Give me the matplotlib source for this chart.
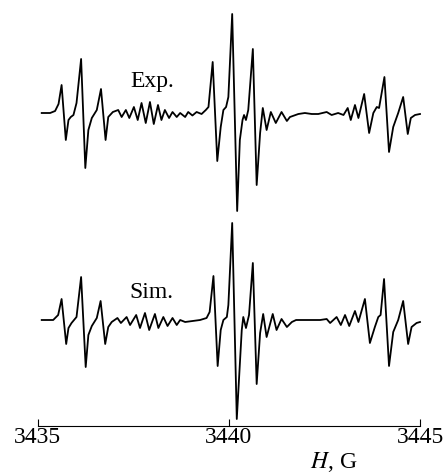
import matplotlib
matplotlib.use("Agg")
import matplotlib.pyplot as plt

# EPR spectrum, experimental trace (field in G, signal in arb. units)
exp_H = [3435.11, 3435.33, 3435.46, 3435.55, 3435.63, 3435.74, 3435.81, 3435.87,
         3435.94, 3436.02, 3436.14, 3436.25, 3436.33, 3436.42, 3436.55, 3436.66,
         3436.78, 3436.85, 3436.97, 3437.11, 3437.20, 3437.31, 3437.40, 3437.52,
         3437.62, 3437.72, 3437.83, 3437.94, 3438.04, 3438.15, 3438.24, 3438.33,
         3438.44, 3438.53, 3438.64, 3438.73, 3438.86, 3438.94, 3439.05, 3439.16,
         3439.29, 3439.40, 3439.47, 3439.58, 3439.70, 3439.79, 3439.86, 3439.93,
         3439.99, 3440.09, 3440.22, 3440.29, 3440.36, 3440.40, 3440.45, 3440.51,
         3440.63, 3440.73, 3440.82, 3440.89, 3440.99, 3441.10, 3441.23, 3441.38,
         3441.52, 3441.60, 3441.82, 3441.99, 3442.17, 3442.34, 3442.56, 3442.69,
         3442.86, 3443.00, 3443.11, 3443.19, 3443.30, 3443.39, 3443.54, 3443.67,
         3443.78, 3443.87, 3443.93, 3444.07, 3444.19, 3444.30, 3444.43, 3444.56,
         3444.68, 3444.76, 3444.87, 3445.00]
exp_I = [0, 0, 2, 9, 28, -27, -7, -4,
         -2, 10, 54, -55, -17, -5, 3, 24,
         -27, -4, 1, 3, -4, 3, -5, 6,
         -7, 10, -10, 11, -11, 8, -7, 3,
         -5, 1, -4, 0, -4, 1, -2.5, 1,
         -1, 3, 6, 51, -48, -14, 3, 6,
         16, 99, -98, -27, -7, -2, -7, 3,
         64, -72, -20, 5, -17, 1, -10, 1,
         -8, -4, -1, 0, -1, -1, 1, -2,
         0, -2, 5, -7, 8, -5, 19, -20,
         0, 6, 5, 36, -39, -14, 0, 16,
         -21, -5, -2, -1]

# simulated trace
sim_H = [3435.11, 3435.41, 3435.54, 3435.63, 3435.75, 3435.81, 3435.89, 3436.02,
         3436.14, 3436.26, 3436.33, 3436.42, 3436.55, 3436.65, 3436.77, 3436.85,
         3436.94, 3437.09, 3437.18, 3437.33, 3437.42, 3437.58, 3437.68, 3437.81,
         3437.92, 3438.07, 3438.16, 3438.29, 3438.40, 3438.53, 3438.64, 3438.73,
         3438.86, 3439.25, 3439.42, 3439.50, 3439.60, 3439.71, 3439.79, 3439.86,
         3439.95, 3439.99, 3440.09, 3440.21, 3440.34, 3440.38, 3440.45, 3440.53,
         3440.63, 3440.73, 3440.82, 3440.90, 3440.99, 3441.15, 3441.25, 3441.38,
         3441.52, 3441.65, 3441.76, 3442.39, 3442.56, 3442.65, 3442.82, 3442.93,
         3443.04, 3443.15, 3443.30, 3443.39, 3443.56, 3443.69, 3443.82, 3443.91,
         3443.97, 3444.06, 3444.19, 3444.30, 3444.43, 3444.56, 3444.69, 3444.78,
         3444.91, 3445.00]
sim_I = [0, 0, 5, 21, -24, -8, -3, 3,
         43, -47, -15, -6, 2, 19, -24, -7,
         -2, 2, -3, 3, -5, 5, -8, 7,
         -10, 6, -8, 3, -6, 2, -5, 0,
         -2, 0, 2, 8, 44, -46, -10, 0,
         3, 15, 97, -99, -10, 3, -8, 5,
         57, -64, -13, 6, -17, 6, -10, 1,
         -7, -2, 0, 0, 1, -3, 3, -5,
         5, -6, 9, -2, 21, -23, -7, 3,
         5, 41, -46, -12, 0, 19, -24, -7,
         -3, -2]

tick_vals = [3435, 3440, 3445]

plt.rcParams['font.family'] = ['Liberation Serif', 'DejaVu Serif']
plt.rcParams['mathtext.fontset'] = 'stix'

fig = plt.figure(figsize=(4.46, 4.75), dpi=100)
ax = fig.add_axes([37.5 / 446, 49.3 / 475, 382.5 / 446, 425.7 / 475])

# vertical offsets of the two traces
exp_off = 312.7
sim_off = 105.7
ax.plot(exp_H, [v + exp_off for v in exp_I], color='black', lw=1.3,
        solid_joinstyle='round', clip_on=False)
ax.plot(sim_H, [v + sim_off for v in sim_I], color='black', lw=1.3,
        solid_joinstyle='round', clip_on=False)

ax.text(3437.42, 338.7, "Exp.", fontsize=17, ha='left', va='baseline')
ax.text(3437.39, 127.7, "Sim.", fontsize=17, ha='left', va='baseline')

ax.set_xlim(3435, 3445)
ax.set_ylim(0, 425.7)
for s in ['top', 'left', 'right']:
    ax.spines[s].set_visible(False)
ax.spines['bottom'].set_linewidth(0.8)
ax.set_yticks([])
ax.set_xticks(tick_vals)
ax.set_xticklabels([str(t) for t in tick_vals])
ax.tick_params(axis='x', direction='in', length=5, width=0.8, pad=1, labelsize=17)
ax.patch.set_visible(False)

fig.text(310 / 446, 7 / 475, "$H$, G", fontsize=17, ha='left', va='baseline')

fig.savefig("out.png", dpi=100)
